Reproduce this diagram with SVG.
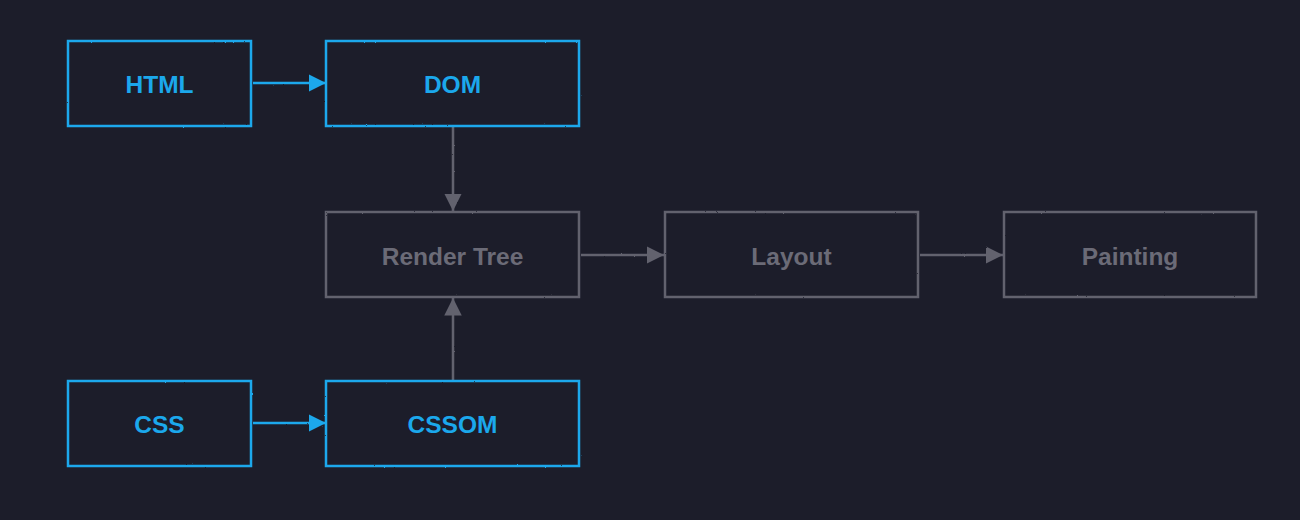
<svg xmlns="http://www.w3.org/2000/svg" width="1300" height="520" viewBox="0 0 1300 520">
  <style>
    .box { fill: none; stroke-width: 2.5; filter: url(#rough); }
    .blue { stroke: #1ba8ec; }
    .gray { stroke: #62626e; }
    .lbl { font-family: "Liberation Sans", Arial, sans-serif; font-size: 24.5px; font-weight: 600; text-anchor: middle; dominant-baseline: central; }
    .tblue { fill: #1ba8ec; }
    .tgray { fill: #6b6b77; }
    .edge { fill: none; stroke-width: 2.5; filter: url(#rough); }
  </style>
  <defs>
    <filter id="rough" filterUnits="userSpaceOnUse" x="0" y="0" width="1300" height="520">
      <feTurbulence type="fractalNoise" baseFrequency="0.9" numOctaves="2" seed="3" result="n"/>
      <feDisplacementMap in="SourceGraphic" in2="n" scale="1.6"/>
    </filter>
    <marker id="arrBlue" viewBox="0 0 10 10" refX="10" refY="5" markerWidth="7" markerHeight="7" markerUnits="strokeWidth" orient="auto">
      <path d="M0,0 L10,5 L0,10 z" fill="#1ba8ec"/>
    </marker>
    <marker id="arrGray" viewBox="0 0 10 10" refX="10" refY="5" markerWidth="7" markerHeight="7" markerUnits="strokeWidth" orient="auto">
      <path d="M0,0 L10,5 L0,10 z" fill="#62626e"/>
    </marker>
  </defs>
  <rect width="1300" height="520" fill="#1c1d2a"/>

  <g id="connectors">
    <line class="edge" x1="253" y1="83" x2="326" y2="83" stroke="#1ba8ec" marker-end="url(#arrBlue)"/>
    <line class="edge" x1="253" y1="423" x2="326" y2="423" stroke="#1ba8ec" marker-end="url(#arrBlue)"/>
    <line class="edge" x1="453" y1="127" x2="453" y2="211" stroke="#62626e" marker-end="url(#arrGray)"/>
    <line class="edge" x1="453" y1="380" x2="453" y2="298" stroke="#62626e" marker-end="url(#arrGray)"/>
    <line class="edge" x1="581" y1="255" x2="664" y2="255" stroke="#62626e" marker-end="url(#arrGray)"/>
    <line class="edge" x1="920" y1="255" x2="1003" y2="255" stroke="#62626e" marker-end="url(#arrGray)"/>
  </g>

  <g id="node-html">
    <rect class="box blue" x="68" y="41" width="183" height="85"/>
    <text class="lbl tblue" x="159.5" y="84">HTML</text>
  </g>
  <g id="node-dom">
    <rect class="box blue" x="326" y="41" width="253" height="85"/>
    <text class="lbl tblue" x="452.5" y="84">DOM</text>
  </g>
  <g id="node-render-tree">
    <rect class="box gray" x="326" y="212" width="253" height="85"/>
    <text class="lbl tgray" x="452.5" y="256">Render Tree</text>
  </g>
  <g id="node-layout">
    <rect class="box gray" x="665" y="212" width="253" height="85"/>
    <text class="lbl tgray" x="791.5" y="256">Layout</text>
  </g>
  <g id="node-painting">
    <rect class="box gray" x="1004" y="212" width="252" height="85"/>
    <text class="lbl tgray" x="1130" y="256">Painting</text>
  </g>
  <g id="node-css">
    <rect class="box blue" x="68" y="381" width="183" height="85"/>
    <text class="lbl tblue" x="159.5" y="424">CSS</text>
  </g>
  <g id="node-cssom">
    <rect class="box blue" x="326" y="381" width="253" height="85"/>
    <text class="lbl tblue" x="452.5" y="424">CSSOM</text>
  </g>
</svg>
